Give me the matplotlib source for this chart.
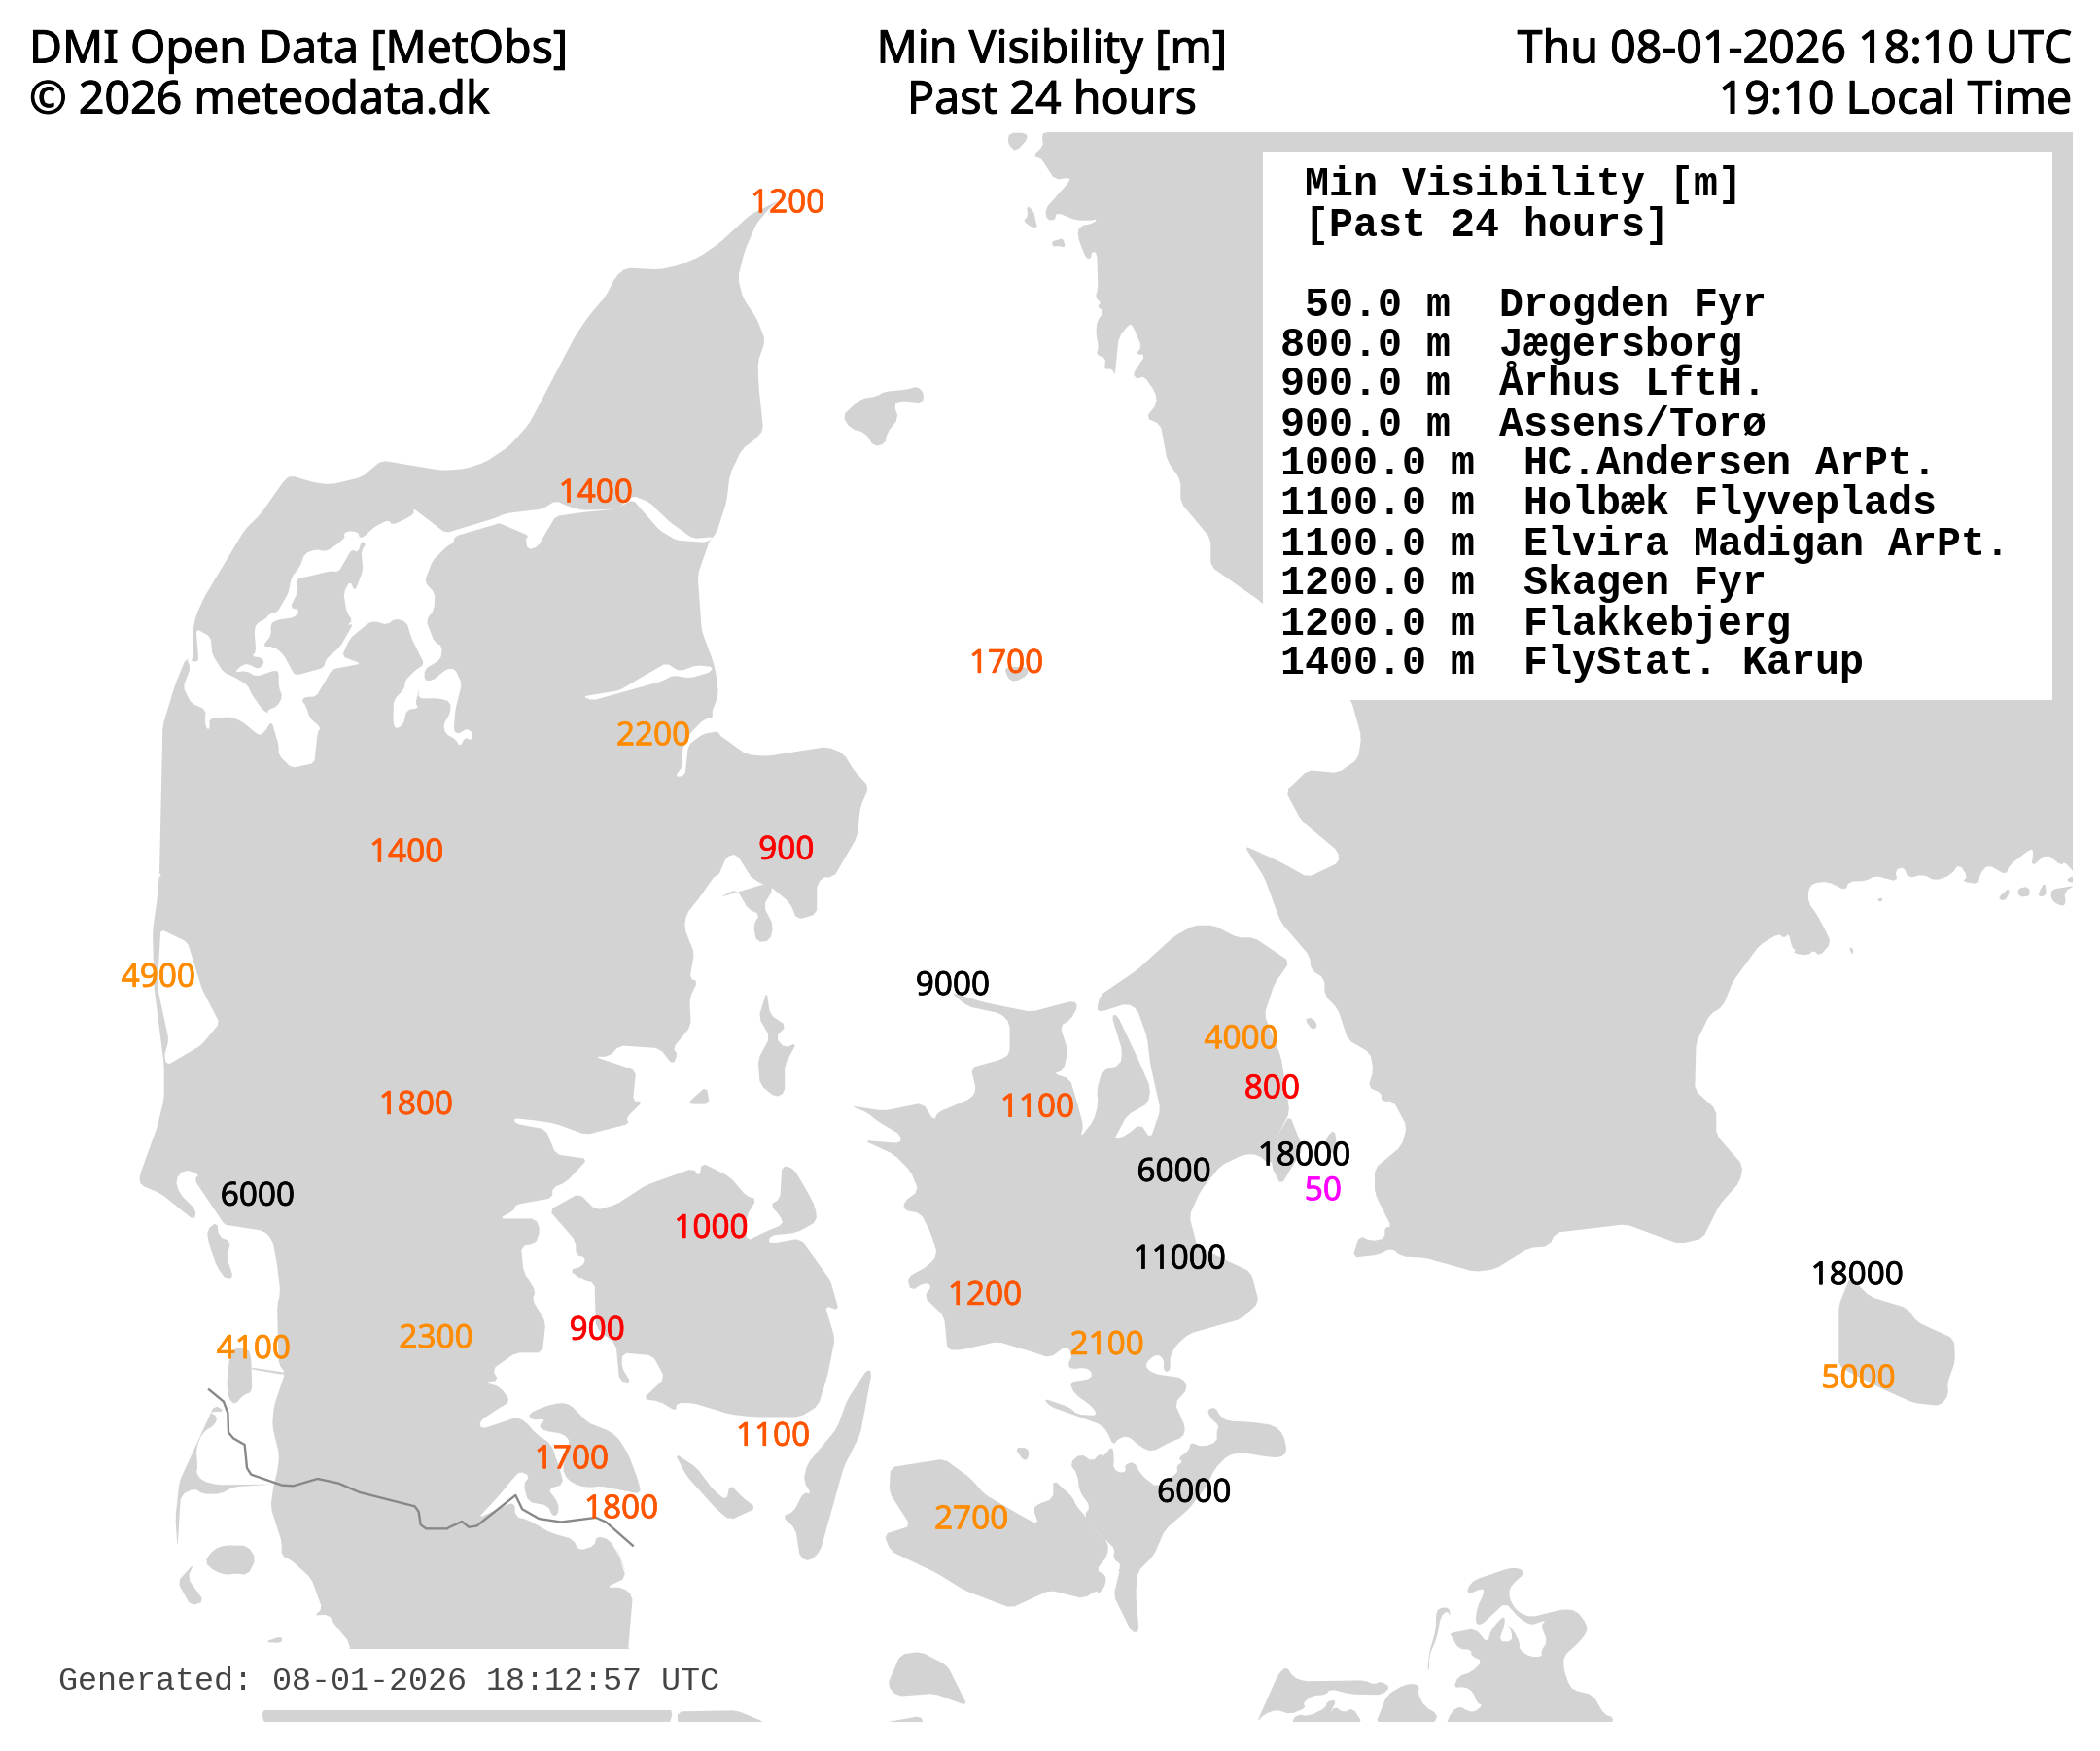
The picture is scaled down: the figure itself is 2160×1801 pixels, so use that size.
import matplotlib
matplotlib.use('Agg')
import matplotlib.pyplot as plt
import matplotlib.patheffects as pe
from matplotlib.patches import Polygon, Rectangle

W, H = 2160, 1801
LAND = '#d3d3d3'

## Stations ~~~~~~~~~~~~~~~~~~~~~~~~~~~~~~~~~~~~~~~~~~~~~~~~~~~~~~~~~~~
# label centres in 1565 wide coordinates
station_x = [587, 444, 750, 487, 586, 303, 118, 710, 925, 948, 310, 773, 972, 875, 986,
             192, 530, 879, 1384, 734, 445, 325, 825, 189, 1385, 576, 426, 890, 463, 724]
station_y = [151, 367, 494, 548, 633, 635, 728, 734, 774, 811, 823, 825, 861, 873, 887,
             891, 915, 938, 950, 965, 991, 997, 1002, 1005, 1027, 1070, 1087, 1112, 1124, 1132]
station_vis = [1200, 1400, 1700, 2200, 900, 1400, 4900, 9000, 4000, 800, 1800, 1100, 18000, 6000, 50,
               6000, 1000, 11000, 18000, 1200, 900, 2300, 2100, 4100, 5000, 1100, 1700, 6000, 1800, 2700]

## Top 10 list
top_vis = [50.0, 800.0, 900.0, 900.0, 1000.0, 1100.0, 1100.0, 1200.0, 1200.0, 1400.0]
top_names = ['Drogden Fyr', 'Jægersborg', 'Århus LftH.', 'Assens/Torø', 'HC.Andersen ArPt.',
             'Holbæk Flyveplads', 'Elvira Madigan ArPt.', 'Skagen Fyr', 'Flakkebjerg', 'FlyStat. Karup']

## Coastlines ~~~~~~~~~~~~~~~~~~~~~~~~~~~~~~~~~~~~~~~~~~~~~~~~~~~~~~~~~
# traced in "sheets": each has an origin and a scale in output pixels
SHEETS = {'NW': (0, 0, 1.452, 1.742), 'NE': (1080, 0, 1.452, 1.742),
          'SW': (0, 900, 1.452, 1.74), 'SE': (1080, 900, 1.452, 1.74),
          'C5': (480, 1420, 3, 3), 'C6': (1060, 1340, 3, 3),
          'R1': (170, 510, 3, 3), 'R2': (1020, 130, 3, 3), 'R3': (1830, 860, 3, 3),
          'R4': (1280, 1600, 3, 3), 'R5': (200, 1190, 3, 3)}

jutland_north = [('NW', [(1165, 358), (1150, 372), (1130, 400), (1112, 450), (1102, 498), (1110, 535), (1130, 570),
    (1143, 610), (1132, 648), (1133, 690), (1140, 770), (1130, 785), (1108, 805), (1090, 850), (1085, 900),
    (1070, 955), (1060, 968), (1055, 985), (1042, 1030), (1048, 1130), (1065, 1185), (1070, 1210), (1073, 1245),
    (1062, 1280), (1072, 1315), (1115, 1352), (1145, 1355), (1235, 1338), (1260, 1350), (1275, 1380), (1298, 1410),
    (1285, 1445), (1280, 1500), (1245, 1572), (1122, 1572), (1100, 1530), (1085, 1535), (1072, 1572), (238, 1572),
    (243, 1300), (262, 1225), (278, 1179), (288, 1185), (288, 1132), (292, 1105), (305, 1070), (365, 950), (390, 920),
    (425, 860), (435, 852), (470, 865), (495, 868), (540, 855), (555, 840), (570, 825), (660, 843), (695, 840),
    (725, 828), (760, 800), (790, 760), (860, 600), (880, 565), (905, 530), (920, 495), (935, 480), (985, 483),
    (1015, 475), (1045, 460), (1075, 435), (1120, 385)])]

limfjord = [('NW', [(1066, 962), (1035, 965), (1000, 935), (970, 900), (945, 888), (922, 912), (870, 914), (850, 908),
        (830, 897), (810, 912), (755, 920)]),
    ('R1', [(1020, 68), (865, 115), (765, 38), (768, 55), (740, 72), (700, 90), (690, 75), (665, 85), (640, 100),
        (615, 125), (600, 130), (595, 112), (565, 108), (550, 118), (555, 128), (530, 150), (495, 172), (465, 165),
        (430, 178), (415, 220), (390, 250), (380, 300), (345, 360), (320, 365), (310, 380), (280, 395), (275, 420),
        (280, 480), (267, 495), (300, 500), (305, 520), (285, 535), (260, 520), (240, 520), (212, 545), (250, 540),
        (280, 558), (340, 538), (350, 545), (350, 590), (362, 620), (345, 650), (318, 660), (315, 670), (322, 675),
        (300, 660), (265, 610), (255, 585), (215, 560), (180, 545), (145, 490), (140, 435), (95, 410), (103, 510),
        (88, 512), (65, 500), (78, 530), (55, 590), (80, 640), (125, 660), (122, 700), (130, 722), (138, 715),
        (135, 688), (200, 682), (235, 695), (290, 740), (305, 730), (328, 695), (350, 770), (350, 800), (390, 840),
        (460, 825), (470, 730), (480, 715), (445, 685), (435, 650), (420, 630), (435, 620), (465, 620), (515, 535),
        (605, 518), (545, 495), (570, 440), (630, 390), (650, 388), (685, 398), (710, 378), (745, 390), (760, 440),
        (800, 520), (775, 535), (740, 570), (738, 595), (705, 630), (703, 700), (712, 720), (735, 705), (745, 660),
        (782, 655), (772, 640), (785, 590), (780, 625), (845, 625), (880, 635), (880, 670), (858, 705), (865, 735),
        (895, 750), (910, 775), (925, 745), (945, 755), (948, 730), (930, 718), (905, 735), (890, 725), (895, 660),
        (915, 580), (895, 535), (870, 533), (825, 570), (800, 570), (800, 535), (850, 505), (855, 465), (830, 450),
        (805, 385), (830, 350), (832, 300), (800, 265), (825, 200), (870, 155), (890, 145), (893, 125), (1020, 88)]),
    ('NW', [(745, 937), (790, 960), (785, 965), (788, 985), (803, 980), (815, 955), (830, 925), (870, 918), (920, 912),
        (945, 895), (985, 950), (1010, 968), (1055, 972)])]

mors = [('R1', [(405, 255), (410, 295), (385, 345), (415, 352), (400, 375), (345, 383), (325, 395), (327, 430), (300, 465),
    (335, 465), (365, 490), (400, 555), (490, 530), (495, 505), (540, 465), (580, 395), (560, 400), (578, 385),
    (560, 360), (550, 300), (570, 262), (585, 295), (610, 230), (605, 170), (620, 148), (605, 140), (595, 175),
    (575, 165), (535, 235), (510, 232), (435, 250)])]
mariager = [('NW', [(870, 1248), (925, 1237), (960, 1212), (995, 1188), (1015, 1203), (1040, 1192), (1065, 1195),
    (1060, 1205), (1030, 1215), (1005, 1210), (990, 1220), (945, 1235), (885, 1255)])]
randers = [('NW', [(1070, 1283), (1050, 1290), (1030, 1315), (1018, 1345), (1020, 1372), (1008, 1392), (1023, 1390),
    (1028, 1335), (1050, 1315), (1075, 1310)])]
laeso = [('NW', [(1258, 745), (1285, 715), (1310, 710), (1320, 702), (1355, 698), (1370, 692), (1380, 705), (1378, 722),
    (1345, 718), (1335, 725), (1342, 750), (1325, 775), (1322, 795), (1305, 800), (1292, 775), (1270, 768)])]
anholt = [('NW', [(1500, 1195), (1535, 1195), (1535, 1210), (1515, 1222), (1505, 1215)])]

sweden = [('R2', [(160, 18), (155, 35), (160, 60), (128, 90), (150, 95), (195, 165), (240, 158), (240, 170), (165, 255),
        (170, 288), (195, 290), (200, 265), (260, 290), (320, 290), (325, 280), (318, 298), (270, 308), (265, 340),
        (290, 405), (305, 410), (310, 385), (325, 392), (328, 500), (320, 528), (338, 545), (325, 555), (348, 572),
        (325, 600), (322, 640), (330, 680), (323, 705), (352, 715), (348, 750), (372, 748), (380, 770), (392, 650),
        (425, 610), (435, 615), (463, 680), (445, 703), (475, 705), (435, 765), (450, 780), (470, 770), (505, 820),
        (510, 855), (475, 900)]),
    ('NE', [(165, 760), (175, 825), (195, 860), (195, 900), (240, 965), (240, 1015), (315, 1078), (450, 1255), (465, 1320),
        (460, 1360), (430, 1385), (385, 1380), (352, 1418), (375, 1470), (430, 1525), (432, 1545), (385, 1572),
        (345, 1545), (290, 1515), (320, 1572)]),
    ('SE', [(345, 85), (388, 145), (390, 170), (410, 185), (410, 215), (430, 240), (445, 295),
        (478, 318), (483, 350), (475, 380), (495, 390), (495, 405), (513, 405), (533, 450), (525, 485), (485, 525),
        (485, 570), (510, 630), (500, 630), (500, 650), (480, 655), (462, 645), (452, 685), (490, 680), (510, 668),
        (525, 683), (560, 685), (635, 710), (665, 705), (715, 668), (745, 665), (755, 640), (860, 625), (940, 660),
        (975, 650), (1000, 590), (1030, 550), (1035, 520), (995, 465), (995, 420), (963, 385), (965, 300), (985, 250),
        (1005, 235), (1020, 190), (1060, 125), (1088, 105)]),
    ('R3', [(15, 315), (30, 300), (40, 345), (50, 350), (45, 362), (90, 368), (105, 352), (125, 370), (160, 330), (145, 295),
        (115, 240), (90, 205), (90, 165), (105, 145), (150, 140), (205, 168), (215, 140), (270, 138), (295, 122),
        (365, 140), (358, 105), (385, 95), (398, 130), (445, 118), (480, 138), (530, 120), (555, 85), (582, 125),
        (565, 140), (615, 148), (620, 115), (645, 88), (700, 120), (710, 90), (775, 40), (785, 45), (778, 95),
        (825, 55), (870, 90), (880, 80), (900, 100), (915, 120), (915, -300)]),
    ('NE', [(1540, 230)])]
skerry_1 = [('R2', [(55, 20), (105, 20), (112, 38), (75, 78), (55, 60), (50, 45)])]
skerry_2 = [('R2', [(108, 243), (130, 262), (135, 290), (142, 313), (120, 310), (97, 290), (112, 280)])]
skerry_3 = [('R2', [(185, 355), (205, 350), (220, 345), (228, 375), (205, 368), (190, 372)])]
blekinge_1 = [('R3', [(675, 190), (712, 158), (705, 190), (690, 200)])]
blekinge_2 = [('R3', [(735, 162), (770, 155), (775, 185), (740, 188)])]
blekinge_3 = [('R3', [(798, 180), (820, 140), (825, 180), (808, 188)])]
blekinge_4 = [('R3', [(838, 165), (915, 152), (880, 170), (885, 215), (860, 212), (840, 195)])]
blekinge_5 = [('R3', [(300, 195), (320, 190), (315, 205)])]
blekinge_6 = [('R3', [(215, 342), (230, 348), (225, 368)])]
blekinge_7 = [('R3', [(890, 130), (915, 122), (915, 145), (890, 140)])]
blekinge_hole = [('R3', [(635, 115), (645, 125), (640, 135)])]

ringkobing = [('SW', [(240, 97), (280, 120), (302, 205), (328, 265), (300, 305), (250, 340), (245, 325), (252, 295), (235, 200)])]

jutland_south = [('SW', [(238, -3), (235, 40), (228, 100), (230, 200), (245, 340), (245, 400), (235, 450), (208, 540), (210, 555),
        (240, 570), (290, 618), (293, 600), (268, 570), (262, 545), (275, 527), (298, 535), (290, 545), (335, 625)]),
    ('R5', [(100, 210), (215, 228), (240, 255), (255, 330), (265, 420), (255, 460), (260, 640), (280, 665), (245, 770),
        (240, 830), (262, 920), (255, 975), (245, 1010), (235, 1080), (270, 1190), (268, 1230), (300, 1245), (360, 1300),
        (395, 1395), (368, 1415), (415, 1412), (430, 1440), (480, 1500)]),
    ('SW', [(520, 1450), (390, 1495), (395, 1520), (1000, 1520), (1005, 1497), (938, 1388), (945, 1290), (930, 1275),
        (905, 1275), (935, 1258), (920, 1200)]),
    ('C5', [(495, 600), (470, 540), (440, 490), (400, 480), (395, 510), (345, 525), (330, 490), (260, 470), (190, 430),
        (150, 420), (148, 375), (110, 390), (35, 425), (100, 355), (145, 300), (165, 280), (195, 295), (175, 320),
        (190, 375), (250, 385), (265, 418), (280, 415), (285, 390), (275, 365), (250, 335), (300, 320), (285, 265),
        (260, 195), (215, 165), (180, 125), (150, 113), (130, 122), (45, 150), (40, 125), (100, 85), (135, 65),
        (105, 20), (55, 5)]),
    ('SW', [(745, 905), (735, 885), (770, 855), (810, 855), (815, 800), (795, 760), (800, 745), (782, 710), (778, 665),
        (800, 660), (807, 635), (800, 615), (745, 615), (768, 600), (770, 590), (825, 578), (825, 560), (845, 550),
        (878, 508), (830, 500), (815, 455), (770, 445), (767, 435), (805, 440), (830, 445), (875, 465), (940, 445),
        (935, 435), (960, 405), (945, 405), (950, 350), (888, 325), (910, 325), (925, 305), (985, 310), (1005, 340),
        (1012, 320), (1005, 310), (1032, 270), (1030, 220), (1042, 190), (1030, 185), (1037, 140), (1022, 95),
        (1025, 70), (1045, 40), (1070, -3)])]
germany_strip = [('SW', [(1012, 1497), (1100, 1495), (1140, 1515), (1140, 1520), (1012, 1520)])]
djursland_south = [('SW', [(1115, -3), (1135, 15), (1150, 20), (1180, 50), (1190, 80), (1220, 70), (1220, 15), (1238, -3)])]
helgenaes = [('SW', [(1075, 40), (1100, 25), (1118, 62), (1135, 70), (1125, 90), (1130, 120), (1150, 118), (1155, 90),
    (1140, 55), (1155, 25), (1145, 15)])]
als = [('C5', [(190, 103), (240, 80), (290, 68), (320, 75), (345, 100), (375, 130), (400, 140), (440, 155), (470, 180),
    (500, 230), (530, 310), (538, 350), (460, 335), (410, 325), (385, 330), (345, 325), (310, 305), (295, 270),
    (320, 190), (300, 165), (240, 155), (222, 140), (245, 118), (200, 122)])]
fano = [('R5', [(38, 225), (70, 200), (75, 245), (112, 260), (100, 310), (120, 372), (100, 380), (70, 340), (45, 270)])]
romo = [('R5', [(100, 700), (108, 620), (120, 590), (165, 590), (175, 620), (178, 725), (150, 735), (125, 765), (105, 745)])]
romo_dam = [('R5', [(175, 650), (280, 665), (275, 672), (175, 655)])]
sylt = [('R5', [(62, 765), (95, 785), (45, 787), (70, 800), (65, 825), (25, 850), (5, 900), (10, 960), (5, 975), (25, 1000),
        (70, 1012), (245, 1010), (120, 1018), (80, 1040), (25, 1040), (0, 1022)]),
    ('SW', [(270, 1110), (265, 1205), (262, 1150), (268, 1085)])]
fohr = [('R5', [(30, 1250), (60, 1210), (95, 1198), (165, 1200), (190, 1240), (165, 1290), (125, 1285), (100, 1290), (65, 1280)])]
amrum = [('SW', [(265, 1265), (290, 1232), (280, 1258), (305, 1300), (285, 1308)])]
halligen = [('R5', [(215, 1497), (270, 1478), (270, 1500)])]
funen = [('SW', [(820, 600), (865, 570), (890, 600), (920, 590), (965, 555), (1000, 540), (1035, 525), (1045, 540),
    (1048, 515), (1090, 540), (1115, 575), (1130, 580), (1115, 610), (1115, 655), (1140, 640), (1170, 625),
    (1165, 610), (1150, 590), (1165, 580), (1168, 520), (1185, 525), (1205, 565), (1218, 595), (1220, 620),
    (1190, 640), (1150, 645), (1148, 660), (1195, 650), (1240, 725), (1253, 780), (1232, 770), (1247, 830),
    (1235, 900), (1222, 950), (1195, 970), (1125, 970), (1090, 965), (1035, 945), (1010, 945), (1010, 960),
    (985, 942), (960, 938), (993, 900), (975, 860), (930, 855), (928, 880), (943, 910), (925, 905), (920, 840),
    (890, 810), (888, 730), (870, 725), (850, 707), (870, 700), (875, 685), (860, 680), (860, 655)])]
langeland = [('SW', [(1295, 885), (1302, 890), (1285, 1000), (1260, 1060), (1225, 1210), (1210, 1228), (1195, 1222),
    (1188, 1170), (1168, 1148), (1185, 1140), (1200, 1105), (1212, 1108), (1200, 1085), (1205, 1055), (1250, 990), (1265, 940)])]
aero = [('SW', [(1008, 1035), (1040, 1060), (1065, 1100), (1085, 1120), (1090, 1090), (1110, 1115), (1130, 1133),
    (1090, 1155), (1070, 1135), (1025, 1075)])]
samso = [('SW', [(1133, 255), (1145, 208), (1150, 250), (1175, 270), (1158, 290), (1172, 310), (1190, 300), (1172, 340),
    (1172, 390), (1158, 398), (1135, 375), (1132, 330), (1150, 290)])]
endelave = [('SW', [(1030, 405), (1055, 378), (1060, 410), (1030, 410)])]
fehmarn = [('SW', [(1325, 1450), (1345, 1395), (1375, 1390), (1415, 1415), (1445, 1487), (1395, 1465), (1340, 1470)])]
wismar = [('SW', [(1305, 1520), (1375, 1505), (1380, 1520)])]
agerso = [('SW', [(1515, 1025), (1535, 1025), (1537, 1040), (1530, 1050)])]
lolland = [('SW', [(1330, 1060), (1410, 1045), (1450, 1080), (1470, 1108), (1530, 1150)]),
    ('C6', [(25, 685), (8, 635), (25, 620), (70, 605), (70, 545), (130, 600), (140, 625), (170, 660), (190, 690),
        (240, 740), (238, 780), (202, 825), (232, 840), (232, 870), (210, 900)]),
    ('SE', [(70, 1280), (50, 1295), (0, 1280)]),
    ('SW', [(1510, 1312), (1440, 1280), (1400, 1250), (1330, 1210), (1320, 1180), (1360, 1165), (1328, 1105)])]
zealand = [('SW', [(1420, 210), (1470, 228), (1540, 245)]),
    ('SE', [(35, 225), (42, 235), (30, 260), (15, 270), (27, 315), (20, 350), (5, 355), (30, 365), (40, 405), (50, 450),
        (45, 470), (65, 440), (72, 410), (70, 385), (78, 350), (105, 340), (108, 315), (92, 252), (100, 250),
        (128, 320), (150, 380), (147, 408), (115, 430), (95, 475), (115, 465), (135, 445), (150, 472), (165, 420),
        (150, 340), (145, 290), (130, 240), (115, 230), (75, 245), (70, 240), (75, 215), (130, 170), (185, 110),
        (215, 90), (245, 90), (280, 112), (305, 112), (358, 155), (335, 195), (320, 250), (345, 325), (358, 425),
        (340, 465), (330, 520), (310, 500), (290, 500), (255, 520), (225, 565), (208, 610), (220, 665), (300, 710), (312, 765)]),
    ('C6', [(650, 50), (490, 95), (450, 130), (430, 165), (432, 205), (420, 215), (410, 205), (412, 175), (390, 157),
        (355, 185), (360, 205), (385, 220), (470, 232), (485, 265), (445, 310), (478, 385), (470, 415), (430, 430),
        (375, 460), (340, 445), (300, 410), (270, 420), (255, 440), (235, 395), (215, 375), (150, 352), (60, 320),
        (40, 295), (120, 322), (145, 345), (207, 348), (190, 320), (135, 280), (120, 245), (185, 235), (190, 215),
        (170, 200), (125, 205), (115, 190), (130, 160), (110, 132), (60, 170), (0, 150)]),
    ('SW', [(1490, 835), (1435, 850), (1415, 850), (1410, 790), (1380, 755), (1392, 735), (1380, 730), (1360, 745),
        (1355, 720), (1385, 700), (1400, 680), (1390, 640), (1375, 605), (1350, 600), (1350, 585), (1372, 565),
        (1360, 530), (1335, 500), (1290, 475), (1345, 480), (1345, 465), (1310, 440), (1295, 425), (1270, 413),
        (1320, 422), (1378, 408), (1395, 440), (1400, 425), (1450, 400), (1458, 385), (1450, 345), (1495, 330),
        (1508, 320), (1508, 265), (1495, 248), (1445, 235)])]
falster_mon = [('C6', [(120, 495), (155, 465), (190, 490), (215, 465), (225, 475), (252, 440), (258, 480), (255, 510),
        (275, 525), (295, 520), (290, 500), (320, 490), (340, 530), (390, 570), (440, 535), (455, 520), (450, 505),
        (470, 490), (455, 480), (490, 455), (493, 430), (530, 445), (575, 430), (575, 395), (582, 380), (555, 355),
        (545, 330), (570, 322), (585, 350), (610, 365), (680, 368), (750, 378), (780, 405), (792, 460), (770, 478),
        (730, 475), (650, 462), (610, 470), (570, 510), (540, 570), (490, 635), (415, 700), (380, 780), (330, 830), (325, 900)]),
    ('SE', [(133, 1355), (122, 1355), (95, 1290), (105, 1240)]),
    ('C6', [(255, 850), (282, 810), (255, 790), (260, 760), (240, 740), (190, 690), (165, 655), (185, 630), (150, 580), (145, 530)])]
amager = [('SE', [(358, 430), (378, 490), (345, 555), (330, 520), (340, 465)])]
saltholm = [('SE', [(412, 470), (425, 455), (430, 500), (412, 495)])]
ven = [('SE', [(380, 258), (392, 255), (400, 270), (392, 278)])]
bornholm = [('SE', [(1195, 720), (1225, 755), (1280, 775), (1295, 800), (1350, 830), (1352, 870), (1340, 910), (1342, 930),
    (1330, 950), (1290, 945), (1240, 918), (1178, 880), (1178, 770)])]
rugen = [('R4', [(688, 100), (710, 75), (820, 38), (850, 40), (865, 55), (825, 90), (815, 115), (825, 150), (850, 178), (885, 190),
    (985, 165), (1025, 170), (1055, 210), (1058, 235), (1030, 270), (985, 310), (985, 350), (1000, 395), (1015, 415),
    (1075, 430), (1110, 490), (1140, 500), (1130, 525), (620, 525), (640, 480), (665, 465), (690, 480), (710, 482),
    (735, 462), (718, 455), (705, 420), (680, 405), (645, 408), (660, 372), (700, 360), (735, 325), (700, 310), (700, 290),
    (660, 288), (640, 250), (632, 240), (712, 225), (750, 270), (760, 230), (800, 185), (805, 205), (785, 265), (825, 265),
    (825, 235), (810, 212), (830, 230), (850, 270), (848, 290), (880, 312), (920, 312), (915, 295), (935, 265), (915, 215),
    (930, 200), (912, 205), (885, 215), (850, 195), (805, 145), (730, 215), (712, 208), (718, 160), (740, 115), (735, 100), (690, 120)])]
hiddensee = [('R4', [(565, 352), (570, 300), (590, 230), (592, 170), (610, 160), (632, 162), (635, 188), (625, 170), (605, 190),
    (595, 250), (570, 310), (570, 352)])]
darss = [('R4', [(38, 515), (105, 365), (130, 342), (150, 375), (185, 388), (370, 385), (400, 398), (420, 388), (450, 405),
    (425, 430), (330, 428), (265, 412), (250, 430), (210, 432), (180, 455), (190, 470), (140, 490), (100, 475), (60, 490)])]
darss_2 = [('R4', [(145, 518), (160, 490), (200, 495), (250, 470), (255, 450), (285, 445), (262, 490), (280, 465), (305, 485),
    (335, 470), (365, 518)])]
stralsund = [('R4', [(405, 518), (440, 430), (490, 400), (525, 395), (540, 405), (535, 425), (555, 465), (597, 490), (585, 518)])]

land_parts = [jutland_north, jutland_south, sweden, germany_strip, djursland_south, helgenaes,
              laeso, anholt, skerry_1, skerry_2, skerry_3, blekinge_1, blekinge_2, blekinge_3, blekinge_4,
              blekinge_5, blekinge_6, blekinge_7,
              zealand, falster_mon, lolland, funen, langeland, aero, samso, endelave, fehmarn, wismar, agerso,
              fano, romo, romo_dam, sylt, fohr, amrum, halligen, als, amager, saltholm, ven, bornholm,
              rugen, hiddensee, darss, darss_2, stralsund]
water_parts = [limfjord, mariager, randers, ringkobing, blekinge_hole]
island_parts = [mors]

border_line = [('R5', [(45, 718), (90, 755), (103, 790), (105, 850), (120, 868), (155, 888), (162, 960), (175, 980), (270, 1013),
        (305, 1015), (380, 993), (445, 1007), (510, 1035), (680, 1078), (692, 1095), (698, 1135), (715, 1147), (780, 1147)]),
    ('SW', [(670, 1168), (690, 1157), (700, 1167), (712, 1165), (770, 1110), (780, 1135),
        (805, 1152), (838, 1158), (890, 1150), (905, 1158), (945, 1200)])]


def to_map(parts):
    # join the traced pieces and bring them to output pixels
    pts = []
    for sheet, fragment in parts:
        x0, y0, sx, sy = SHEETS[sheet]
        pts += [(x0 + x / sx, y0 + y / sy) for x, y in fragment]
    return pts


def round_corners(pts, cut=4.0):
    # coast is smooth in the original, so cut each corner a little
    out = []
    n = len(pts)
    for i in range(n):
        x1, y1 = pts[i]
        x2, y2 = pts[(i + 1) % n]
        d = ((x2 - x1)**2 + (y2 - y1)**2)**0.5
        if d == 0:
            continue
        t = min(0.25, cut / d)
        out.append((x1 + t * (x2 - x1), y1 + t * (y2 - y1)))
        out.append((x2 - t * (x2 - x1), y2 - t * (y2 - y1)))
    return out


def vis_color(v):
    if v < 100:
        return 'magenta'
    if v <= 1000:
        return 'red'
    if v < 2000:
        return '#ff5500'
    if v <= 5000:
        return 'darkorange'
    return 'black'


def page_text(x, y, s, **args):
    fig.text(x / W, 1 - y / H, s, va='baseline', **args)


fig = plt.figure(figsize=(W / 100, H / 100), dpi=100)

# Map axes, limits in output pixels
left, right, top, bottom = 30, 2132, 136, 1771
ax = fig.add_axes([left / W, 1 - bottom / H, (right - left) / W, (bottom - top) / H])
ax.set_xlim(left, right)
ax.set_ylim(bottom, top)
ax.axis('off')

for part in land_parts:
    ax.add_patch(Polygon(round_corners(to_map(part)), closed=True, fc=LAND, ec='none', zorder=1))
for part in water_parts:
    ax.add_patch(Polygon(round_corners(to_map(part), cut=3.0), closed=True, fc='white', ec='none', zorder=2))
for part in island_parts:
    ax.add_patch(Polygon(round_corners(to_map(part), cut=3.0), closed=True, fc=LAND, ec='none', zorder=3))

bx, by = zip(*to_map(border_line))
ax.plot(bx, by, color='#888888', lw=1.7, solid_joinstyle='round', zorder=4)

# Station values
SCALE = W / 1565
for x, y, v in zip(station_x, station_y, station_vis):
    c = vis_color(v)
    ax.text(x * SCALE, y * SCALE + 10, str(v), color=c, fontsize=24, family='Noto Sans',
            ha='center', va='baseline', zorder=6,
            path_effects=[pe.withStroke(linewidth=0.5, foreground=c)])

# White boxes on top of the land
ax.add_patch(Rectangle((1299, 156), 812, 564, fc='white', ec='none', zorder=7))
ax.add_patch(Rectangle((40, 1696), 730, 63, fc='white', ec='none', zorder=7))

# Header
title_args = dict(family='Noto Sans', fontsize=33.5, color='black',
                  path_effects=[pe.withStroke(linewidth=0.7, foreground='black')])
page_text(30, 64.5, 'DMI Open Data [MetObs]', ha='left', **title_args)
page_text(30, 116.5, '© 2026 meteodata.dk', ha='left', **title_args)
page_text(1082, 64.5, 'Min Visibility [m]', ha='center', **title_args)
page_text(1082, 116.5, 'Past 24 hours', ha='center', **title_args)
page_text(2131, 64.5, 'Thu 08-01-2026 18:10 UTC', ha='right', **title_args)
page_text(2131, 116.5, '19:10 Local Time', ha='right', **title_args)

# Top 10 list
lines = [' Min Visibility [m]', ' [Past 24 hours]', '']
lines += ['%5.1f m  %s' % (v, name) for v, name in zip(top_vis, top_names)]
for i, line in enumerate(lines):
    page_text(1317, 201.5 + i * 41, line, family='Liberation Mono', weight='bold', fontsize=30,
              color='black', ha='left', zorder=8)

page_text(60, 1738, 'Generated: 08-01-2026 18:12:57 UTC', family='Liberation Mono', fontsize=24,
          color='#444444', ha='left', zorder=8)

fig.savefig('out.png', dpi=100, facecolor='white')
